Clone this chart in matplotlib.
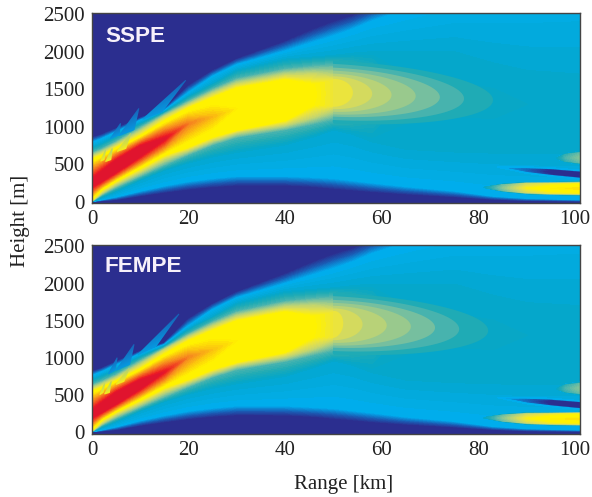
import numpy as np
import matplotlib
matplotlib.use('Agg')
import matplotlib.pyplot as plt
from matplotlib.colors import LinearSegmentedColormap
from matplotlib.patches import Polygon

# ranges of the table columns [km]
ranges = [0, 2, 5, 10, 15, 20, 25, 30, 40, 46, 50, 54, 58, 65, 75, 83, 90, 101]

# value assigned to each height row (below the core, the core, above the core)
lower_levels = [0.0, 0.08, 0.33, 0.37, 0.46, 0.60, 0.70]
upper_levels = [0.70, 0.60, 0.46, 0.37, 0.33, 0.08, 0.0]

# SSPE: height [m] where the field reaches each level
s_navy_lo = [0, 8, 22, 70, 115, 155, 185, 205, 205, 185, 160, 140, 120, 90, 55, 25, 8, 3]
s_cyan_lo = [2, 30, 70, 150, 220, 280, 320, 350, 350, 335, 320, 290, 260, 210, 150, 80, 50, 30]
s_teal_lo = [4, 60, 140, 290, 420, 520, 600, 660, 760, 870, 960, 900, 800, 700, 665, 650, 640, 640]
s_46_lo = [7, 90, 190, 340, 490, 630, 760, 860, 960, 1040, 1100, 1150, 1300, 1400, 1380, 1340, 1300, 1250]
s_60_lo = [12, 120, 240, 400, 570, 690, 820, 925, 1030, 1140, 1235, 1300, 1440, 1430, 1380, 1340, 1300, 1250]
s_70_lo = [30, 160, 280, 450, 625, 735, 870, 960, 1090, 1300, 1285, 1450, 1440, 1430, 1380, 1340, 1300, 1250]
s_core = [240, 320, 460, 680, 840, 1045, 1135, 1245, 1400, 1430, 1455, 1450, 1440, 1430, 1380, 1340, 1300, 1250]
s_70_up = [560, 610, 710, 870, 1070, 1245, 1380, 1510, 1620, 1560, 1620, 1450, 1440, 1430, 1380, 1340, 1300, 1250]
s_60_up = [600, 650, 750, 930, 1130, 1290, 1440, 1570, 1690, 1705, 1675, 1600, 1440, 1430, 1380, 1340, 1300, 1250]
s_46_up = [650, 700, 800, 990, 1170, 1340, 1500, 1640, 1770, 1810, 1830, 1750, 1600, 1430, 1380, 1340, 1300, 1250]
s_teal_up = [720, 770, 870, 1040, 1190, 1400, 1570, 1750, 1900, 1930, 1950, 1980, 2000, 2000, 2000, 1850, 1750, 1700]
s_cyan_up = [780, 830, 920, 1080, 1210, 1445, 1665, 1820, 2000, 2120, 2200, 2290, 2400, 2550, 2750, 2900, 3000, 3100]
s_navy_up = [860, 900, 980, 1120, 1240, 1555, 1755, 1910, 2150, 2320, 2420, 2500, 2600, 2750, 2950, 3100, 3200, 3300]
s_peak = [1.05, 1.1, 1.15, 1.12, 1.0, 0.86, 0.80, 0.74, 0.72, 0.705, 0.66, 0.58, 0.45, 0.39, 0.385, 0.385, 0.38, 0.38]

# FEMPE
f_navy_lo = [0, 8, 25, 80, 125, 165, 195, 215, 210, 190, 165, 145, 120, 90, 55, 25, 8, 3]
f_cyan_lo = [2, 30, 75, 160, 230, 290, 330, 360, 360, 340, 325, 295, 265, 210, 150, 80, 50, 30]
f_teal_lo = [4, 60, 140, 285, 410, 510, 590, 650, 750, 870, 960, 900, 800, 700, 665, 650, 640, 640]
f_46_lo = [7, 90, 185, 330, 470, 610, 740, 840, 950, 1040, 1100, 1150, 1300, 1400, 1380, 1340, 1300, 1250]
f_60_lo = [12, 120, 235, 385, 545, 670, 800, 905, 1020, 1135, 1235, 1300, 1440, 1430, 1380, 1340, 1300, 1250]
f_70_lo = [30, 160, 275, 435, 600, 715, 850, 945, 1080, 1290, 1285, 1450, 1440, 1430, 1380, 1340, 1300, 1250]
f_core = [230, 310, 440, 640, 810, 1010, 1110, 1230, 1390, 1430, 1455, 1450, 1440, 1430, 1380, 1340, 1300, 1250]
f_70_up = [540, 590, 680, 840, 1040, 1220, 1360, 1490, 1610, 1550, 1610, 1450, 1440, 1430, 1380, 1340, 1300, 1250]
f_60_up = [580, 630, 720, 900, 1100, 1270, 1420, 1550, 1680, 1695, 1665, 1600, 1440, 1430, 1380, 1340, 1300, 1250]
f_46_up = [630, 680, 770, 960, 1130, 1320, 1480, 1620, 1760, 1800, 1820, 1740, 1590, 1430, 1380, 1340, 1300, 1250]
f_teal_up = [700, 750, 840, 1010, 1150, 1380, 1550, 1730, 1890, 1920, 1940, 1970, 1990, 1990, 1990, 1840, 1740, 1700]
f_cyan_up = [750, 800, 890, 1050, 1170, 1420, 1640, 1800, 1990, 2110, 2190, 2280, 2390, 2540, 2740, 2890, 2990, 3090]
f_navy_up = [820, 860, 950, 1090, 1200, 1530, 1730, 1890, 2140, 2310, 2410, 2490, 2590, 2740, 2940, 3090, 3190, 3290]
f_peak = [1.05, 1.1, 1.15, 1.1, 0.98, 0.85, 0.79, 0.74, 0.72, 0.705, 0.66, 0.58, 0.45, 0.39, 0.385, 0.385, 0.38, 0.38]

# nested bands of the far end of the main lobe, outermost first
band_vals = [0.42, 0.46, 0.50, 0.54, 0.58, 0.62, 0.66]
s_band_tip = [83, 77, 72, 67, 62, 58, 54]
s_band_bot = [1045, 1090, 1135, 1165, 1200, 1235, 1265]
s_band_top = [1885, 1840, 1790, 1750, 1710, 1675, 1640]
s_band_mid = [1355, 1375, 1395, 1410, 1425, 1440, 1455]
f_band_tip = [82, 76, 71, 66, 61, 56, 52]
f_band_bot = [1045, 1090, 1135, 1165, 1200, 1235, 1265]
f_band_top = [1875, 1830, 1780, 1740, 1700, 1665, 1630]
f_band_mid = [1365, 1385, 1405, 1420, 1435, 1450, 1465]

# fingers above the main beam: corner x, corner y
s_blue_x = [[10.5, 14.5, 19.4], [5.6, 8.7, 9.7], [3.8, 5.6, 5.9]]
s_blue_y = [[1100, 1200, 1620], [880, 960, 1245], [840, 890, 1045]]
s_yellow_x = [[5.2, 7.0, 8.0], [2.8, 3.9, 4.2], [1.8, 2.5, 2.8]]
s_yellow_y = [[670, 710, 910], [535, 560, 710], [540, 560, 690]]
f_blue_x = [[9.5, 13.2, 18.0], [5.0, 7.8, 8.7], [3.4, 4.8, 5.2]]
f_blue_y = [[1040, 1150, 1590], [830, 910, 1180], [780, 830, 1000]]
f_yellow_x = [[5.0, 6.6, 7.7], [2.6, 3.6, 4.0], [1.6, 2.3, 2.6]]
f_yellow_y = [[640, 680, 860], [510, 530, 680], [500, 530, 650]]

# yellow lobe low at far range
lobe_r = [81, 85, 90, 95, 101]
lobe_c = [190, 185, 180, 175, 175]
lobe_half = [0, 35, 55, 60, 65]
lobe_v = [0.36, 0.52, 0.68, 0.74, 0.76]
# dark wedge
wedge_r = [84, 90, 95, 101]
wedge_c = [460, 420, 395, 360]
wedge_half = [0, 30, 40, 42]
wedge_v = [0.33, 0.2, 0.05, 0.02]
# small upper lobe
small_r = [96, 98, 101]
small_c = [580, 585, 585]
small_half = [0, 40, 60]
small_v = [0.36, 0.46, 0.52]

cmap = LinearSegmentedColormap.from_list('field', [
    (0.0, '#2b2e8f'), (0.1, '#2b2e8f'), (0.2, '#1a5cb4'), (0.33, '#00aeef'),
    (0.38, '#05a6c8'), (0.42, '#1fabb5'), (0.46, '#48b3ae'), (0.50, '#74bfa0'),
    (0.54, '#98c98e'), (0.58, '#b8d278'), (0.62, '#d4da5e'), (0.66, '#ece43c'),
    (0.70, '#fff200'), (0.74, '#fff200'), (0.84, '#f7941d'), (0.97, '#ed1c24'),
    (1.0, '#e0142e')], N=256)

levels = np.arange(0, 1.001, 0.01)

plt.rcParams['font.family'] = ['Liberation Serif', 'DejaVu Serif']


def fill(ax, x, y, z):
    cs = ax.contourf(x, y, z, levels=levels, cmap=cmap, vmin=0, vmax=1, extend='both')
    cs.set_edgecolor('face')
    cs.set_linewidth(0.3)


def lobe(ax, r, c, half, v):
    r, c, half, v = map(np.array, (r, c, half, v))
    edge = 0.34
    mid = edge + 0.8 * (v - edge)
    y = np.array([c - 1.4 * half, c - half, c, c + half, c + 1.4 * half])
    z = np.array([edge + 0 * v, mid, v, mid, edge + 0 * v])
    x = np.tile(r, (5, 1))
    fill(ax, x, y, z)


def bands(ax, tip, bot, top, mid):
    # start on a pixel edge so the stacked polygons leave no seam
    start = 49.88
    t = np.linspace(-np.pi / 2, np.pi / 2, 60)
    for a, b, c, d, v in zip(tip, bot, top, mid, band_vals):
        x = start + (a - start) * np.cos(t)
        centre = (b + c) / 2 * (1 - np.cos(t)) + d * np.cos(t)
        y = centre + (c - b) / 2 * np.sin(t)
        ax.add_patch(Polygon(np.column_stack([x, y]), closed=True, fc=cmap(v), ec='none'))


def panel(ax, rows, peak, band, blue_x, blue_y, yellow_x, yellow_y, ylim):
    n = len(ranges)
    below = [[-100] * n] + rows[:6]
    above = rows[7:] + [[4000] * n]
    h = np.array(below + [rows[6]] + above, dtype=float)
    lev = lower_levels + [99] + upper_levels
    z = np.array([np.minimum(l, peak) for l in lev])
    x = np.tile(ranges, (len(lev), 1))
    fill(ax, x, h, z)
    bands(ax, *band)
    for xs, ys in zip(blue_x, blue_y):
        ax.tripcolor(xs, ys, [0.30, 0.30, 0.2], shading='gouraud', cmap=cmap, vmin=0, vmax=1)
    for xs, ys in zip(yellow_x, yellow_y):
        ax.tripcolor(xs, ys, [0.68, 0.68, 0.55], shading='gouraud', cmap=cmap, vmin=0, vmax=1)
    lobe(ax, lobe_r, lobe_c, lobe_half, lobe_v)
    lobe(ax, wedge_r, wedge_c, wedge_half, wedge_v)
    lobe(ax, small_r, small_c, small_half, small_v)
    ax.set_xlim(0, 101)
    ax.set_ylim(*ylim)
    ax.set_xticks([0, 20, 40, 60, 80, 100])
    ax.set_yticks([0, 500, 1000, 1500, 2000, 2500])
    ax.tick_params(length=0, labelsize=15, pad=5, labelcolor='#222222')
    for s in ax.spines.values():
        s.set_color('#444444')
        s.set_linewidth(1.0)


W, H = 592, 497
fig = plt.figure(figsize=(W / 100, H / 100), dpi=100)
ax1 = fig.add_axes([92 / W, 1 - 202.7 / H, 488 / W, 189.4 / H])
ax2 = fig.add_axes([92 / W, 1 - 434 / H, 488 / W, 189 / H])

sspe_rows = [s_navy_lo, s_cyan_lo, s_teal_lo, s_46_lo, s_60_lo, s_70_lo, s_core,
             s_70_up, s_60_up, s_46_up, s_teal_up, s_cyan_up, s_navy_up]
fempe_rows = [f_navy_lo, f_cyan_lo, f_teal_lo, f_46_lo, f_60_lo, f_70_lo, f_core,
              f_70_up, f_60_up, f_46_up, f_teal_up, f_cyan_up, f_navy_up]

panel(ax1, sspe_rows, s_peak, (s_band_tip, s_band_bot, s_band_top, s_band_mid),
      s_blue_x, s_blue_y, s_yellow_x, s_yellow_y, (-15, 2515))
panel(ax2, fempe_rows, f_peak, (f_band_tip, f_band_bot, f_band_top, f_band_mid),
      f_blue_x, f_blue_y, f_yellow_x, f_yellow_y, (-30, 2520))

fig.text(105 / W, 1 - 36 / H, 'SSPE', family='Liberation Sans', fontweight='bold', fontsize=16.2,
         color='#f6f0fa', ha='left', va='center')
fig.text(104 / W, 1 - 267 / H, 'FEMPE', family='Liberation Sans', fontweight='bold', fontsize=16.2,
         color='#f6f0fa', ha='left', va='center')
fig.text(21 / W, 1 - 221 / H, 'Height [m]', fontsize=15, rotation=90, ha='center', va='center', color='#222222')
fig.text(344 / W, 1 - 484 / H, 'Range [km]', fontsize=15, ha='center', va='center', color='#222222')

fig.savefig('out.png', dpi=100)
